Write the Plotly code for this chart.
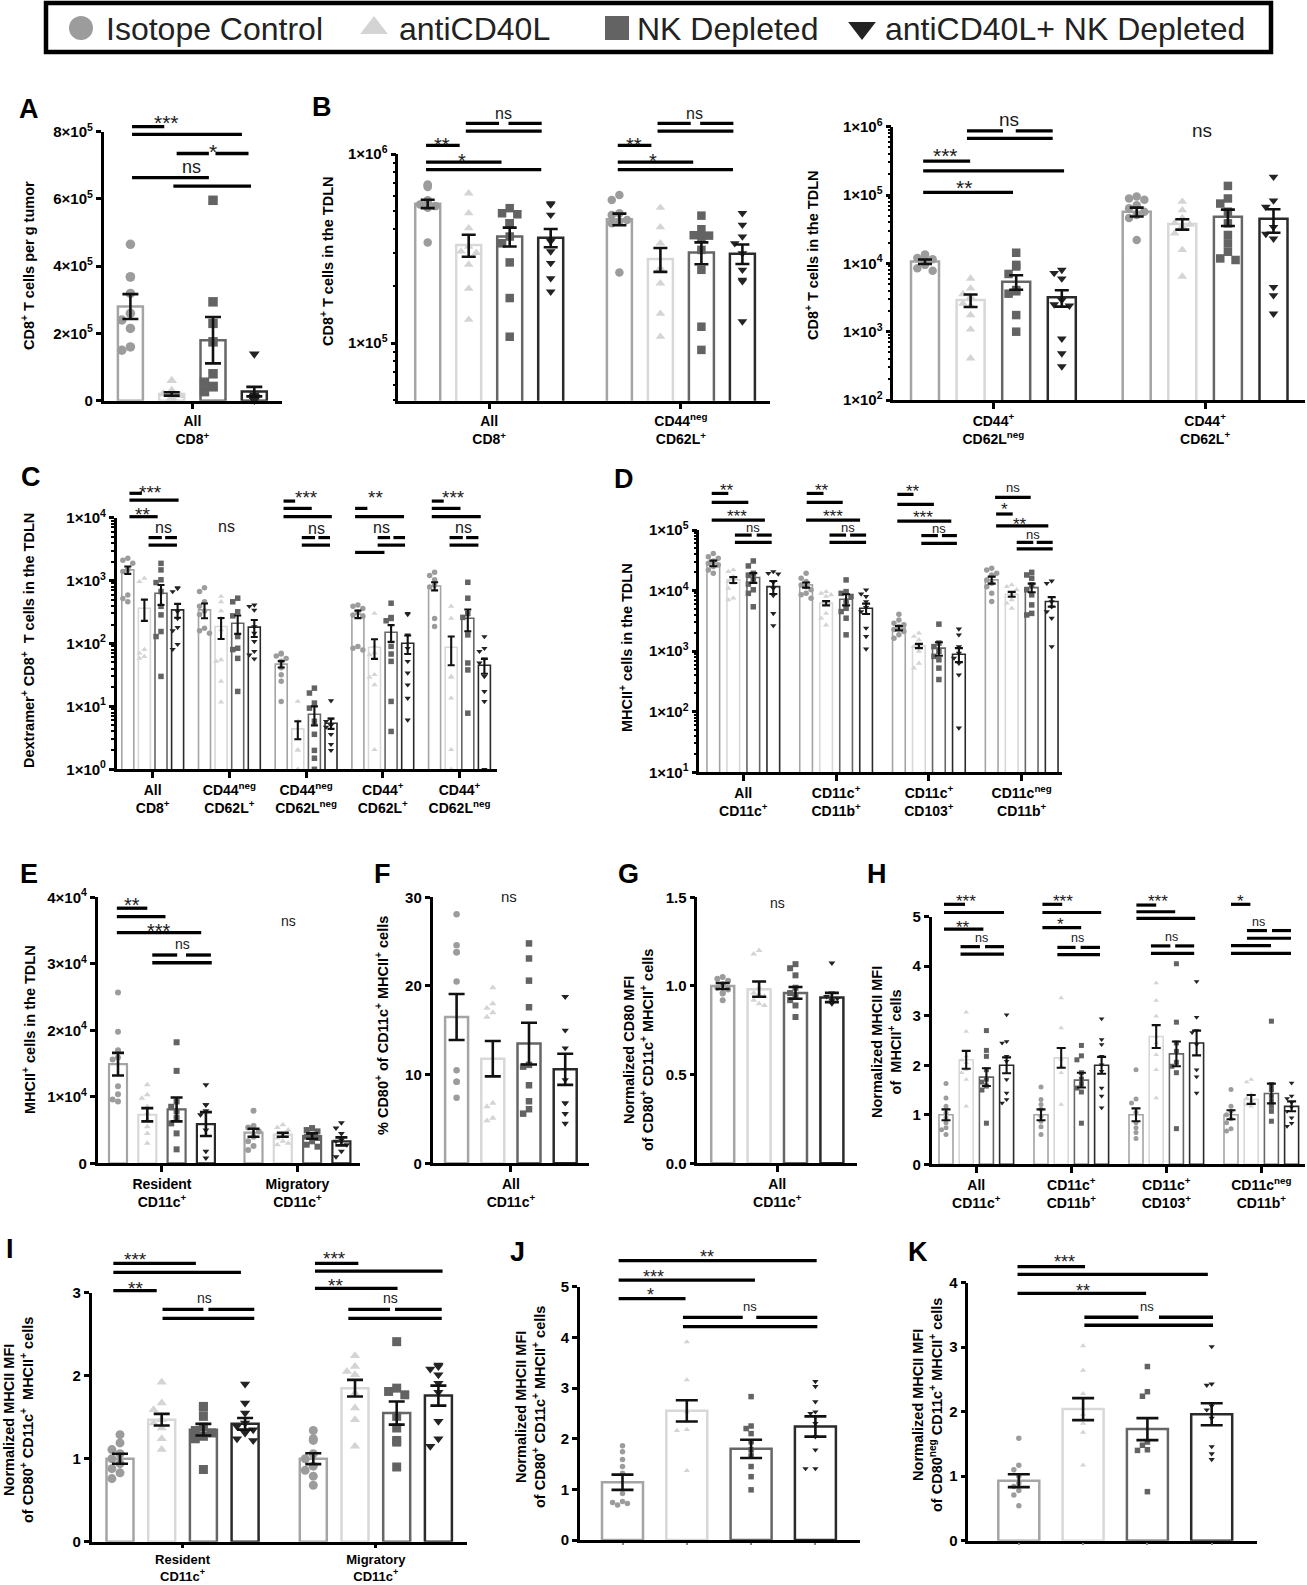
import math
import plotly.graph_objects as go

W, H = 1307, 1585
FONT = "Liberation Sans, Arial, sans-serif"

GROUP_NAMES = ["Isotope Control", "antiCD40L", "NK Depleted", "antiCD40L+ NK Depleted"]
GROUP_COLORS = ["#9c9c9c", "#d4d4d4", "#636363", "#232323"]
BAR_COLORS = ["#a4a4a4", "#d8d8d8", "#666666", "#2a2a2a"]
SYMBOLS = ["circle", "triangle-up", "square", "triangle-down"]


def sci(m, e):
    return f"{m}×10<sup>{e}</sup>"

# ---------------- data ----------------
# Panel A
A_cats = ["All<br>CD8<sup>+</sup>"]
A_means = [[2.8e5, 0.2e5, 1.8e5, 0.27e5]]
A_sems = [[0.37e5, 0.05e5, 0.69e5, 0.14e5]]
A_points = [[
    [4.65e5, 3.68e5, 3.68e5, 3.19e5, 2.6e5, 2.4e5, 2.15e5, 1.5e5, 1.6e5],
    [0.6e5, 0.3e5, 0.2e5, 0.15e5, 0.1e5, 0.08e5, 0.05e5, 0.03e5, 0.03e5],
    [5.96e5, 2.94e5, 2.3e5, 1.75e5, 0.8e5, 0.55e5, 0.42e5, 0.42e5, 0.27e5],
    [1.39e5, 0.17e5, 0.12e5, 0.12e5, 0.07e5, 0.07e5, 0.04e5, 0.02e5, 0.02e5]]]
A_ticks = [0, 2e5, 4e5, 6e5, 8e5]
A_ticktext = ["0", sci(2, 5), sci(4, 5), sci(6, 5), sci(8, 5)]

# Panel B (left)
BL_cats = ["All<br>CD8<sup>+</sup>", "CD44<sup>neg</sup><br>CD62L<sup>+</sup>"]
BL_means = [[5.45e5, 3.3e5, 3.66e5, 3.61e5], [4.52e5, 2.78e5, 3.01e5, 2.97e5]]
BL_sems = [[0.28e5, 0.44e5, 0.42e5, 0.4e5], [0.32e5, 0.4e5, 0.4e5, 0.35e5]]
BL_points = [
    [[6.9e5, 6.8e5, 6.7e5, 5.7e5, 5.6e5, 5.4e5, 5.3e5, 5.2e5, 3.4e5],
     [6.2e5, 4.86e5, 4.05e5, 3.24e5, 3.05e5, 3.0e5, 2.6e5, 1.94e5, 1.33e5],
     [5.17e5, 4.86e5, 4.8e5, 4.3e5, 4.3e5, 3.66e5, 3.37e5, 2.67e5, 1.73e5, 1.08e5],
     [5.48e5, 5.4e5, 4.77e5, 3.5e5, 3.45e5, 3.05e5, 2.65e5, 2.2e5, 1.87e5]],
    [[6.07e5, 5.71e5, 4.86e5, 4.75e5, 4.48e5, 4.4e5, 4.3e5, 2.36e5],
     [5.2e5, 4.1e5, 3.37e5, 2.49e5, 2.45e5, 2.07e5, 1.43e5, 1.08e5],
     [4.72e5, 4.0e5, 3.72e5, 3.7e5, 3.65e5, 3.11e5, 2.44e5, 1.22e5, 0.92e5],
     [4.86e5, 4.22e5, 3.66e5, 3.37e5, 2.98e5, 2.44e5, 2.16e5, 2.12e5, 1.3e5]]]
BL_ticks = [1e5, 1e6]
BL_ticktext = [sci(1, 5), sci(1, 6)]

# Panel B (right)
BR_cats = ["CD44<sup>+</sup><br>CD62L<sup>neg</sup>", "CD44<sup>+</sup><br>CD62L<sup>+</sup>"]
BR_means = [[1.06e4, 2.9e3, 5.4e3, 3.18e3], [5.7e4, 3.77e4, 4.82e4, 4.5e4]]
BR_sems = [[0.08e4, 0.6e3, 1.3e3, 0.85e3], [0.85e4, 0.65e4, 1.3e4, 1.7e4]]
BR_points = [
    [[1.35e4, 1.3e4, 1.2e4, 1.15e4, 1.1e4, 1.05e4, 0.95e4, 0.85e4, 0.78e4],
     [6.0e3, 4.3e3, 3.56e3, 3.2e3, 2.57e3, 2.4e3, 1.75e3, 1.08e3, 4.07e2],
     [1.43e4, 9.5e3, 9.0e3, 7.0e3, 4.07e3, 3.9e3, 3.6e3, 1.75e3, 1.0e3],
     [8.0e3, 7.2e3, 6.0e3, 2.9e3, 2.5e3, 2.4e3, 7.9e2, 4.8e2, 3.1e2]],
    [[9.5e4, 8.9e4, 8.5e4, 7.1e4, 6.4e4, 5.7e4, 5.1e4, 4.6e4, 2.2e4],
     [8.0e4, 6.0e4, 4.6e4, 3.9e4, 3.7e4, 3.5e4, 2.75e4, 1.57e4, 6.4e3],
     [1.36e5, 8.9e4, 7.5e4, 5.7e4, 3.85e4, 2.6e4, 1.96e4, 1.48e4, 1.18e4, 1.12e4],
     [1.85e5, 8.3e4, 6.7e4, 3.4e4, 2.7e4, 2.3e4, 4.5e3, 3.4e3, 1.83e3]]]
BR_ticks = [1e2, 1e3, 1e4, 1e5, 1e6]
BR_ticktext = [sci(1, e) for e in range(2, 7)]

# Panel C
C_cats = ["All<br>CD8<sup>+</sup>", "CD44<sup>neg</sup><br>CD62L<sup>+</sup>",
          "CD44<sup>neg</sup><br>CD62L<sup>neg</sup>", "CD44<sup>+</sup><br>CD62L<sup>+</sup>",
          "CD44<sup>+</sup><br>CD62L<sup>neg</sup>"]
C_means = [[1.48e3, 3.64e2, 6.3e2, 3.42e2], [3.42e2, 1.86e2, 2.1e2, 1.82e2],
           [47, 4.4, 7.5, 5.4], [2.93e2, 87, 1.51e2, 1.01e2], [8.2e2, 87, 2.52e2, 45]]
C_sems = [[0.2e3, 1.35e2, 2.2e2, 0.85e2], [0.9e2, 0.68e2, 0.68e2, 0.55e2],
          [5.5, 1.4, 2.5, 1.0], [0.4e2, 30, 0.45e2, 0.33e2], [1.2e2, 42, 0.95e2, 12]]
C_points = [
    [[2.26e3, 2.1e3, 1.88e3, 1.5e3, 1.4e3, 1.5e3, 5.9e2, 5.2e2, 4.6e2],
     [1.09e3, 9.6e2, 80, 70, 62, 58],
     [1.88e3, 1.48e3, 1.03e3, 9.3e2, 6.7e2, 3.9e2, 2.85e2, 1.55e2, 1.29e2, 30],
     [7.7e2, 7.5e2, 6.7e2, 3.2e2, 2.5e2, 1.8e2, 1.6e2, 97, 81]],
    [[7.7e2, 6.7e2, 4.6e2, 3.9e2, 3.3e2, 2.9e2, 1.75e2, 1.6e2, 1.46e2],
     [5.6e2, 4.6e2, 3.3e2, 2.5e2, 1.65e2, 52, 55, 25, 11.7],
     [5.25e2, 4.6e2, 3.2e2, 2.75e2, 1.29e2, 84, 80, 58, 17.3],
     [4.1e2, 3.9e2, 3.4e2, 1.86e2, 1.46e2, 1.08e2, 75, 66, 57]],
    [[70, 68, 63, 58, 52, 41, 32, 25, 12],
     [12, 5.8, 2.05, 2.0, 1.0, 1.0],
     [19.5, 16.3, 11.3, 9.4, 5.8, 3.6, 2.0, 1.5, 1.0],
     [12.3, 6.3, 5.8, 5.0, 4.7, 3.6, 2.5, 2.0]],
    [[4.1e2, 3.9e2, 3.6e2, 3.2e2, 2.85e2, 2.7e2, 90, 84, 79],
     [3.0e2, 90, 71, 66, 32, 29, 22, 2.05],
     [4.37e2, 2.59e2, 2.5e2, 2.3e2, 90, 68, 52, 12, 4.0],
     [3.0e2, 2.9e2, 1.37e2, 84, 52, 34, 22, 13.5, 6.1]],
    [[1.36e3, 1.2e3, 1.03e3, 8.4e2, 7.9e2, 2.5e2, 1.86e2],
     [3.9e2, 2.5e2, 30, 29, 13.5, 2.05, 1.0],
     [9.4e2, 5.25e2, 3.0e2, 2.6e2, 1.37e2, 49, 38, 7.8],
     [1.29e2, 84, 75, 57, 49, 30, 17.3, 12, 1.0]]]
C_ticks = [1e0, 1e1, 1e2, 1e3, 1e4]
C_ticktext = [sci(1, e) for e in range(0, 5)]

# Panel D
D_cats = ["All<br>CD11c<sup>+</sup>", "CD11c<sup>+</sup><br>CD11b<sup>+</sup>",
          "CD11c<sup>+</sup><br>CD103<sup>+</sup>", "CD11c<sup>neg</sup><br>CD11b<sup>+</sup>"]
D_means = [[2.82e4, 1.5e4, 1.64e4, 1.16e4], [1.24e4, 6.2e3, 7.2e3, 5.1e3],
           [2.4e3, 1.22e3, 1.12e3, 8.9e2], [1.5e4, 8.7e3, 1.12e4, 6.6e3]]
D_sems = [[0.3e4, 0.17e4, 0.3e4, 0.28e4], [0.12e4, 0.5e3, 1.5e3, 1.0e3],
          [0.2e3, 0.1e3, 0.28e3, 0.23e3], [0.2e4, 0.8e3, 1.8e3, 1.2e3]]
D_points = [
    [[4.1e4, 3.63e4, 3.41e4, 3.08e4, 2.82e4, 2.65e4, 2.49e4, 2.19e4, 1.93e4],
     [2.19e4, 2.06e4, 1.7e4, 1.41e4, 1.32e4, 1.09e4, 7.5e3, 7.0e3],
     [3.08e4, 2.55e4, 1.93e4, 1.8e4, 1.55e4, 1.28e4, 1.03e4, 9.0e3, 5.4e3],
     [2.06e4, 1.93e4, 1.88e4, 1.37e4, 1.09e4, 8.3e3, 4.2e3, 2.65e3]],
    [[1.93e4, 1.6e4, 1.41e4, 1.24e4, 1.16e4, 1.03e4, 9.0e3, 8.5e3, 7.5e3],
     [9.6e3, 9.0e3, 8.5e3, 8.0e3, 6.2e3, 4.2e3, 3.5e3, 2.7e3],
     [1.5e4, 9.6e3, 9.0e3, 8.0e3, 6.6e3, 5.1e3, 4.5e3, 3.5e3, 1.86e3],
     [1.03e4, 8.8e3, 8.0e3, 6.6e3, 5.3e3, 4.5e3, 2.4e3, 1.75e3, 1.09e3]],
    [[4.07e3, 3.28e3, 2.9e3, 2.73e3, 2.55e3, 2.27e3, 2.12e3, 1.86e3, 1.64e3],
     [1.98e3, 1.75e3, 1.54e3, 1.27e3, 1.19e3, 9.9e2, 6.3e2, 5.25e2],
     [2.79e3, 1.36e3, 1.19e3, 9.9e2, 8.2e2, 7.2e2, 5.25e2, 3.4e2],
     [2.33e3, 1.86e3, 1.19e3, 9.3e2, 7.7e2, 6.3e2, 4.07e2, 54]],
    [[2.33e4, 2.19e4, 1.93e4, 1.81e4, 1.5e4, 1.32e4, 1.16e4, 9.0e3, 6.6e3],
     [1.24e4, 1.16e4, 1.03e4, 8.5e3, 7.0e3, 6.2e3, 5.1e3],
     [2.0e4, 1.81e4, 1.6e4, 1.24e4, 1.03e4, 8.5e3, 5.8e3, 4.2e3, 3.96e3],
     [1.44e4, 1.32e4, 6.6e3, 5.4e3, 4.5e3, 3.5e3, 1.19e3]]]
D_ticks = [1e1, 1e2, 1e3, 1e4, 1e5]
D_ticktext = [sci(1, e) for e in range(1, 6)]

# Panel E
E_cats = ["Resident<br>CD11c<sup>+</sup>", "Migratory<br>CD11c<sup>+</sup>"]
E_means = [[1.49e4, 0.73e4, 0.81e4, 0.59e4], [0.46e4, 0.43e4, 0.41e4, 0.33e4]]
E_sems = [[0.17e4, 0.1e4, 0.18e4, 0.18e4], [0.06e4, 0.03e4, 0.04e4, 0.06e4]]
E_points = [
    [[2.57e4, 1.98e4, 1.7e4, 1.59e4, 1.56e4, 1.16e4, 1.04e4, 0.96e4, 0.93e4],
     [1.18e4, 1.03e4, 0.98e4, 0.85e4, 0.75e4, 0.65e4, 0.55e4, 0.45e4, 0.3e4],
     [1.82e4, 1.39e4, 0.93e4, 0.85e4, 0.78e4, 0.68e4, 0.6e4, 0.45e4, 0.21e4],
     [1.18e4, 0.88e4, 0.88e4, 0.79e4, 0.73e4, 0.5e4, 0.18e4, 0.08e4]],
    [[0.79e4, 0.56e4, 0.54e4, 0.48e4, 0.4e4, 0.33e4, 0.26e4, 0.2e4],
     [0.58e4, 0.54e4, 0.5e4, 0.43e4, 0.38e4, 0.33e4, 0.3e4, 0.28e4],
     [0.53e4, 0.5e4, 0.48e4, 0.43e4, 0.4e4, 0.38e4, 0.33e4, 0.28e4, 0.25e4],
     [0.61e4, 0.53e4, 0.45e4, 0.35e4, 0.33e4, 0.28e4, 0.18e4, 0.1e4]]]
E_ticks = [0, 1e4, 2e4, 3e4, 4e4]
E_ticktext = ["0", sci(1, 4), sci(2, 4), sci(3, 4), sci(4, 4)]

# Panel F
F_cats = ["All<br>CD11c<sup>+</sup>"]
F_means = [[16.5, 11.8, 13.5, 10.6]]
F_sems = [[2.6, 2.0, 2.35, 1.75]]
F_points = [[
    [28.1, 24.6, 23.8, 23.8, 20.5, 10.5, 9.2, 9.2, 7.4],
    [19.8, 18.0, 17.5, 17.0, 16.5, 6.8, 6.4, 5.1, 4.8],
    [24.8, 23.1, 20.6, 17.6, 11.1, 10.9, 8.8, 7.0, 6.1, 5.6],
    [18.8, 18.8, 15.0, 13.0, 9.4, 6.8, 6.8, 5.6, 4.5]]]
F_ticks = [0, 10, 20, 30]
F_ticktext = ["0", "10", "20", "30"]

# Panel G
G_cats = ["All<br>CD11c<sup>+</sup>"]
G_means = [[1.0, 0.982, 0.961, 0.935]]
G_sems = [[0.017, 0.043, 0.033, 0.026]]
G_points = [[
    [1.05, 1.04, 1.03, 1.01, 0.99, 0.98, 0.96, 0.957, 0.92],
    [1.2, 1.18, 0.99, 0.96, 0.95, 0.94, 0.92, 0.9, 0.89],
    [1.123, 1.1, 1.06, 0.99, 0.96, 0.94, 0.92, 0.89, 0.825],
    [1.13, 0.96, 0.94, 0.93, 0.92, 0.91, 0.905, 0.9]]]
G_ticks = [0, 0.5, 1.0, 1.5]
G_ticktext = ["0.0", "0.5", "1.0", "1.5"]

# Panel H
H_cats = D_cats
H_means = [[1.0, 2.11, 1.76, 2.0], [1.0, 2.15, 1.7, 2.0], [1.0, 2.58, 2.23, 2.45], [1.0, 1.31, 1.43, 1.17]]
H_sems = [[0.11, 0.18, 0.18, 0.16], [0.11, 0.2, 0.15, 0.17], [0.13, 0.23, 0.25, 0.25], [0.09, 0.09, 0.2, 0.1]]
H_points = [
    [[1.63, 1.34, 1.17, 1.04, 0.94, 0.84, 0.74, 0.6, 0.7],
     [3.07, 2.68, 2.18, 2.1, 2.05, 1.85, 1.71, 1.17, 1.91],
     [2.7, 2.3, 2.18, 1.91, 1.72, 1.66, 1.58, 1.5, 0.83],
     [3.02, 2.48, 2.45, 2.18, 2.08, 1.71, 1.44, 1.31, 1.24]],
    [[1.56, 1.31, 1.21, 1.11, 0.97, 0.87, 0.76, 0.6],
     [3.36, 2.75, 2.12, 1.99, 1.85, 1.21],
     [2.4, 2.19, 2.11, 1.85, 1.72, 1.62, 1.54, 1.46, 0.83],
     [2.94, 2.52, 2.42, 2.18, 2.01, 1.88, 1.54, 1.38, 1.14]],
    [[1.91, 1.32, 1.24, 1.05, 0.84, 0.74, 0.64, 0.52],
     [3.66, 3.31, 2.99, 2.58, 2.45, 2.21, 1.91, 1.34],
     [4.05, 2.87, 2.45, 2.28, 2.06, 1.98, 1.85, 0.72],
     [3.69, 2.97, 2.7, 2.66, 2.42, 1.91, 1.77, 1.44]],
    [[1.51, 1.17, 1.07, 1.0, 0.92, 0.84, 0.72, 0.67],
     [1.71, 1.66, 1.41, 1.34, 1.28, 1.21, 1.17],
     [2.89, 1.61, 1.51, 1.38, 1.28, 1.17, 1.07, 0.87],
     [1.64, 1.38, 1.33, 1.25, 1.15, 1.07, 0.94, 0.83, 0.77]]]
H_ticks = [0, 1, 2, 3, 4, 5]
H_ticktext = ["0", "1", "2", "3", "4", "5"]

# Panel I
I_cats = E_cats
I_means = [[1.0, 1.47, 1.35, 1.42], [1.0, 1.85, 1.55, 1.76]]
I_sems = [[0.06, 0.07, 0.07, 0.07], [0.065, 0.1, 0.14, 0.12]]
I_points = [
    [[1.29, 1.19, 1.11, 1.06, 1.0, 0.94, 0.88, 0.83, 0.76],
     [1.92, 1.67, 1.59, 1.47, 1.43, 1.37, 1.24, 1.11],
     [1.63, 1.62, 1.51, 1.38, 1.34, 1.31, 1.27, 1.24, 0.87],
     [1.9, 1.67, 1.55, 1.43, 1.39, 1.35, 1.31, 1.24, 1.22]],
    [[1.34, 1.24, 1.22, 1.06, 1.0, 0.91, 0.86, 0.79, 0.68],
     [2.24, 2.11, 2.05, 2.01, 1.79, 1.61, 1.47, 1.15],
     [2.41, 1.85, 1.81, 1.77, 1.51, 1.37, 1.22, 1.2, 0.9],
     [2.13, 2.11, 2.08, 2.01, 1.91, 1.8, 1.45, 1.24, 1.15]]]
I_ticks = [0, 1, 2, 3]
I_ticktext = ["0", "1", "2", "3"]

# Panel J
J_means = [[1.14, 2.55, 1.8, 2.24]]
J_sems = [[0.15, 0.21, 0.18, 0.2]]
J_points = [[
    [1.86, 1.74, 1.59, 1.45, 1.32, 0.92, 0.76, 0.74, 0.72, 0.69],
    [3.91, 3.16, 2.53, 2.34, 2.18, 2.16, 1.37],
    [2.83, 2.25, 2.2, 2.1, 1.94, 1.78, 1.66, 1.45, 1.25, 0.99],
    [3.13, 3.03, 2.73, 2.53, 2.5, 2.3, 2.04, 1.78, 1.41, 1.41]]]
J_ticks = [0, 1, 2, 3, 4, 5]
J_ticktext = ["0", "1", "2", "3", "4", "5"]

# Panel K
K_means = [[0.93, 2.04, 1.73, 1.96]]
K_sems = [[0.1, 0.17, 0.17, 0.17]]
K_points = [[
    [1.59, 1.17, 1.1, 1.0, 0.89, 0.84, 0.78, 0.71, 0.54],
    [3.02, 2.64, 2.28, 1.96, 1.82, 1.68, 1.17],
    [2.7, 2.31, 2.24, 1.53, 1.48, 1.41, 1.4, 0.76],
    [3.01, 2.43, 2.41, 2.09, 2.03, 1.9, 1.46, 1.35, 1.26]]]
K_ticks = [0, 1, 2, 3, 4]
K_ticktext = ["0", "1", "2", "3", "4"]

# ---------------- significance marks: ('l', cat, g0, g1, level) / ('t', cat, g, level, text)
A_sig = [('l', 0, 0.04, 0.82, 1.019), ('l', 0, 0.04, 2.70, 0.990), ('l', 0, 1.12, 1.90, 0.919),
         ('l', 0, 2.06, 2.86, 0.919), ('l', 0, 0.04, 1.90, 0.829), ('l', 0, 1.04, 2.92, 0.798),
         ('t', 0, 0.88, 1.056, '***'), ('t', 0, 2.0, 0.950, '*'), ('t', 0, 1.47, 0.867, 'ns')]
BL_sig = []
for c in range(2):
    BL_sig += [('l', c, 0.93, 1.74, 1.124), ('l', c, 1.97, 2.78, 1.124), ('l', c, 0.93, 2.78, 1.093),
               ('l', c, -0.04, 0.78, 1.035), ('l', c, -0.04, 1.80, 0.967), ('l', c, -0.04, 2.77, 0.937),
               ('t', c, 1.84, 1.162, 'ns'), ('t', c, 0.35, 1.058, '**'), ('t', c, 0.83, 0.994, '*')]
BR_sig = [('l', 0, 0.92, 1.71, 0.985), ('l', 0, 1.99, 2.80, 0.985), ('l', 0, 0.92, 2.80, 0.957),
          ('l', 0, -0.04, 0.99, 0.874), ('l', 0, -0.04, 3.05, 0.838), ('l', 0, -0.04, 1.93, 0.760),
          ('t', 0, 1.84, 1.024, 'ns'), ('t', 0, 0.44, 0.915, '***'), ('t', 0, 0.86, 0.799, '**'),
          ('t', 1, 1.43, 0.982, 'ns')]
C_sig = [('l', 0, 0.1, 0.85, 1.097), ('l', 0, 0.1, 3.06, 1.070), ('l', 0, 0.1, 1.8, 1.004),
         ('l', 0, 1.25, 2.05, 0.921), ('l', 0, 2.25, 2.96, 0.921), ('l', 0, 1.25, 2.96, 0.891),
         ('t', 0, 1.35, 1.123, '***'), ('t', 0, 0.9, 1.034, '**'), ('t', 0, 2.15, 0.958, 'ns'),
         ('t', 1, 1.34, 0.964, 'ns'),
         ('l', 2, 0.14, 0.84, 1.066), ('l', 2, 0.14, 1.84, 1.037), ('l', 2, 0.14, 3.05, 1.004),
         ('l', 2, 1.24, 2.04, 0.921), ('l', 2, 2.24, 2.94, 0.921), ('l', 2, 1.24, 2.94, 0.891),
         ('t', 2, 1.54, 1.101, '***'), ('t', 2, 2.1, 0.955, 'ns'),
         ('l', 3, -0.17, 0.57, 1.037), ('l', 3, -0.17, 2.78, 1.004), ('l', 3, 1.19, 1.94, 0.921),
         ('l', 3, 2.14, 2.84, 0.921), ('l', 3, 1.19, 2.84, 0.891), ('l', 3, -0.17, 1.6, 0.862),
         ('t', 3, 1.04, 1.101, '**'), ('t', 3, 1.44, 0.958, 'ns'),
         ('l', 4, -0.17, 0.55, 1.066), ('l', 4, -0.17, 1.56, 1.037), ('l', 4, -0.17, 2.78, 1.004),
         ('l', 4, 0.9, 1.7, 0.921), ('l', 4, 1.9, 2.64, 0.921), ('l', 4, 0.9, 2.64, 0.891),
         ('t', 4, 1.14, 1.101, '***'), ('t', 4, 1.74, 0.958, 'ns')]
D_sig = [('l', 0, -0.08, 0.75, 1.151), ('l', 0, -0.08, 1.75, 1.114), ('l', 0, -0.08, 2.58, 1.041),
         ('l', 0, 1.08, 1.92, 0.979), ('l', 0, 2.17, 2.92, 0.979), ('l', 0, 1.08, 2.92, 0.949),
         ('t', 0, 0.7, 1.183, '**'), ('t', 0, 1.2, 1.076, '***'), ('t', 0, 2.0, 1.007, 'ns'),
         ('l', 1, 0.03, 0.87, 1.151), ('l', 1, 0.03, 1.83, 1.114), ('l', 1, 0.0, 2.7, 1.041),
         ('l', 1, 1.17, 2.0, 0.979), ('l', 1, 2.2, 3.0, 0.979), ('l', 1, 1.17, 3.0, 0.949),
         ('t', 1, 0.78, 1.183, '**'), ('t', 1, 1.33, 1.076, '***'), ('t', 1, 2.12, 1.007, 'ns'),
         ('l', 2, -0.08, 0.73, 1.147), ('l', 2, -0.08, 1.75, 1.106), ('l', 2, -0.08, 2.62, 1.037),
         ('l', 2, 1.12, 1.95, 0.977), ('l', 2, 2.15, 2.9, 0.977), ('l', 2, 1.12, 2.9, 0.945),
         ('t', 2, 0.7, 1.179, '**'), ('t', 2, 1.2, 1.073, '***'), ('t', 2, 2.0, 1.004, 'ns'),
         ('l', 3, 0.17, 1.95, 1.135), ('l', 3, 0.22, 1.05, 1.066), ('l', 3, 0.22, 2.83, 1.017),
         ('l', 3, 1.25, 2.08, 0.949), ('l', 3, 2.25, 3.05, 0.949), ('l', 3, 1.25, 3.05, 0.922),
         ('t', 3, 1.05, 1.172, 'ns'), ('t', 3, 0.63, 1.103, '*'), ('t', 3, 1.42, 1.041, '**'),
         ('t', 3, 2.08, 0.979, 'ns')]
E_sig = [('l', 0, -0.04, 1.0, 0.959), ('l', 0, -0.04, 1.62, 0.927), ('l', 0, -0.04, 2.84, 0.867),
         ('l', 0, 1.17, 2.02, 0.783), ('l', 0, 2.32, 3.17, 0.783), ('l', 0, 1.17, 3.2, 0.754),
         ('t', 0, 0.48, 0.992, '**'), ('t', 0, 1.41, 0.896, '***'), ('t', 0, 2.19, 0.821, 'ns'),
         ('t', 1, 1.18, 0.908, 'ns')]
F_sig = [('t', 0, 1.45, 1.0, 'ns')]
G_sig = [('t', 0, 1.5, 0.977, 'ns')]
H_sig = [('l', 0, -0.1, 0.94, 1.050), ('l', 0, -0.1, 2.87, 1.017), ('l', 0, -0.1, 1.85, 0.950),
         ('l', 0, 0.72, 1.68, 0.879), ('l', 0, 1.93, 2.87, 0.879), ('l', 0, 0.72, 2.87, 0.849),
         ('t', 0, 0.99, 1.081, '***'), ('t', 0, 0.86, 0.977, '**'), ('t', 0, 1.76, 0.913, 'ns'),
         ('l', 1, 0.07, 1.05, 1.050), ('l', 1, 0.07, 2.98, 1.017), ('l', 1, 0.07, 1.99, 0.956),
         ('l', 1, 0.81, 1.71, 0.876), ('l', 1, 1.96, 2.92, 0.876), ('l', 1, 0.81, 2.92, 0.847),
         ('t', 1, 1.1, 1.081, '***'), ('t', 1, 0.97, 0.987, '*'), ('t', 1, 1.83, 0.913, 'ns'),
         ('l', 2, 0.02, 1.0, 1.047), ('l', 2, 0.02, 1.94, 1.020), ('l', 2, 0.02, 2.93, 0.993),
         ('l', 2, 0.74, 1.7, 0.882), ('l', 2, 1.94, 2.88, 0.882), ('l', 2, 0.74, 2.88, 0.852),
         ('t', 2, 1.09, 1.081, '***'), ('t', 2, 1.78, 0.917, 'ns'),
         ('l', 3, 0.0, 0.96, 1.050), ('l', 3, 0.79, 1.78, 0.944), ('l', 3, 2.03, 2.97, 0.944),
         ('l', 3, 0.79, 2.97, 0.913), ('l', 3, 0.0, 1.98, 0.883), ('l', 3, 0.0, 2.97, 0.852),
         ('t', 3, 0.46, 1.081, '*'), ('t', 3, 1.37, 0.976, 'ns')]
I_sig = [('l', 0, -0.16, 1.82, 1.118), ('l', 0, -0.16, 2.9, 1.082), ('l', 0, -0.16, 0.88, 1.008),
         ('l', 0, 1.02, 2.0, 0.933), ('l', 0, 2.12, 3.22, 0.933), ('l', 0, 1.02, 3.22, 0.897),
         ('t', 0, 0.36, 1.154, '***'), ('t', 0, 0.36, 1.040, '**'), ('t', 0, 2.02, 0.977, 'ns'),
         ('l', 1, 0.04, 1.08, 1.118), ('l', 1, 0.04, 3.1, 1.087), ('l', 1, 0.04, 2.02, 1.017),
         ('l', 1, 0.84, 1.84, 0.933), ('l', 1, 1.96, 3.08, 0.933), ('l', 1, 0.84, 3.08, 0.897),
         ('t', 1, 0.52, 1.158, '***'), ('t', 1, 0.54, 1.051, '**'), ('t', 1, 1.86, 0.977, 'ns')]
J_sig = [('l', 0, -0.06, 3.02, 1.103), ('l', 0, -0.06, 2.06, 1.026), ('l', 0, -0.06, 0.98, 0.953),
         ('l', 0, 0.94, 1.87, 0.879), ('l', 0, 2.08, 3.03, 0.879), ('l', 0, 0.94, 3.03, 0.842),
         ('t', 0, 1.32, 1.138, '**'), ('t', 0, 0.48, 1.059, '***'), ('t', 0, 0.44, 0.987, '*'),
         ('t', 0, 1.99, 0.921, 'ns')]
K_sig = [('l', 0, -0.02, 1.03, 1.062), ('l', 0, -0.02, 2.94, 1.032), ('l', 0, -0.02, 1.98, 0.959),
         ('l', 0, 1.02, 1.86, 0.866), ('l', 0, 2.18, 3.02, 0.866), ('l', 0, 1.02, 3.02, 0.835),
         ('t', 0, 0.71, 1.101, '***'), ('t', 0, 1.0, 0.988, '**'), ('t', 0, 2.0, 0.904, 'ns')]

# ---------------- panel layout (pixel geometry, styling) ----------------
PANELS = [
    dict(letter="A", lpos=(29, 109), x0=103.6, x1=282, yt=131.7, yb=400.7, first=130.4, gs=41.3, cs=0, bw=25,
         yr=[0, 8e5], log=False, ticks=A_ticks, ticktext=A_ticktext, cats=A_cats, means=A_means, sems=A_sems,
         pts=A_points, sig=A_sig, ms=9.5, cap=8, blw=2.5, sfs=21, nfs=18,
         title="CD8<sup>+</sup> T cells per g tumor", tpos=(28, 266)),
    dict(letter="B", lpos=(322, 107), x0=398.3, x1=770, yt=154, yb=400.7, first=427.7, gs=41, cs=191.7, bw=25,
         yr=[4.695, 6], log=True, ticks=BL_ticks, ticktext=BL_ticktext, cats=BL_cats, means=BL_means,
         sems=BL_sems, pts=BL_points, sig=BL_sig, ms=8.5, cap=7, blw=2.5, sfs=20, nfs=16,
         title="CD8<sup>+</sup> T cells in the TDLN", tpos=(327, 262)),
    dict(letter="", lpos=None, x0=893.3, x1=1305, yt=126.7, yb=400, first=925, gs=45.6, cs=211.7, bw=28,
         yr=[2, 6], log=True, ticks=BR_ticks, ticktext=BR_ticktext, cats=BR_cats, means=BR_means,
         sems=BR_sems, pts=BR_points, sig=BR_sig, ms=8.5, cap=7, blw=2.5, sfs=21, nfs=19,
         title="CD8<sup>+</sup> T cells in the TDLN", tpos=(812, 256)),
    dict(letter="C", lpos=(31, 477), x0=116.7, x1=497, yt=517.7, yb=769.3, first=127.8, gs=16.6, cs=76.7, bw=12,
         yr=[0, 4], log=True, ticks=C_ticks, ticktext=C_ticktext, cats=C_cats, means=C_means, sems=C_sems,
         pts=C_points, sig=C_sig, ms=5.5, cap=3.5, blw=1.6, sfs=19, nfs=16, slw=3.2,
         title="Dextramer<sup>+</sup> CD8<sup>+</sup>  T cells in the TDLN", tpos=(28, 641)),
    dict(letter="D", lpos=(624, 479), x0=699.3, x1=1062, yt=530, yb=772.3, first=713.3, gs=20, cs=92.8, bw=12.7,
         yr=[1, 5], log=True, ticks=D_ticks, ticktext=D_ticktext, cats=D_cats, means=D_means, sems=D_sems,
         pts=D_points, sig=D_sig, ms=5.5, cap=4, blw=1.6, sfs=17, nfs=13, slw=3.2,
         title="MHCII<sup>+</sup> cells in the TDLN", tpos=(626, 648)),
    dict(letter="E", lpos=(29, 874), x0=97.6, x1=359.7, yt=897.3, yb=1163.3, first=118, gs=29.3, cs=135.5, bw=18,
         yr=[0, 4e4], log=False, ticks=E_ticks, ticktext=E_ticktext, cats=E_cats, means=E_means, sems=E_sems,
         pts=E_points, sig=E_sig, ms=6, cap=6, blw=2.2, sfs=20, nfs=14,
         title="MHCII<sup>+</sup> cells in the TDLN", tpos=(29, 1030)),
    dict(letter="F", lpos=(383, 874), x0=432.5, x1=589, yt=897.3, yb=1163.3, first=456.6, gs=36.2, cs=0, bw=23,
         yr=[0, 30], log=False, ticks=F_ticks, ticktext=F_ticktext, cats=F_cats, means=F_means, sems=F_sems,
         pts=F_points, sig=F_sig, ms=6.5, cap=8, blw=2.5, sfs=18, nfs=15,
         title="% CD80<sup>+</sup> of CD11c<sup>+</sup> MHCII<sup>+</sup> cells", tpos=(382, 1026)),
    dict(letter="G", lpos=(628, 874), x0=697.3, x1=856.7, yt=897.3, yb=1163.3, first=722.7, gs=36.4, cs=0, bw=23,
         yr=[0, 1.5], log=False, ticks=G_ticks, ticktext=G_ticktext, cats=G_cats, means=G_means, sems=G_sems,
         pts=G_points, sig=G_sig, ms=6, cap=7, blw=2.5, sfs=18, nfs=14,
         title="Normalized CD80 MFI<br>of CD80<sup>+</sup> CD11c<sup>+</sup> MHCII<sup>+</sup> cells",
         tpos=(638, 1050)),
    dict(letter="H", lpos=(877, 874), x0=931.7, x1=1305, yt=916.7, yb=1164.3, first=946, gs=20.2, cs=95, bw=14,
         yr=[0, 5], log=False, ticks=H_ticks, ticktext=H_ticktext, cats=H_cats, means=H_means, sems=H_sems,
         pts=H_points, sig=H_sig, ms=5, cap=4.5, blw=1.6, sfs=17, nfs=12.5, slw=3.2,
         title="Normalized MHCII MFI<br>of  MHCII<sup>+</sup> cells", tpos=(886, 1042)),
    dict(letter="I", lpos=(10, 1249), x0=91.7, x1=466.7, yt=1292.7, yb=1541.7, first=120, gs=41.7, cs=193.3, bw=27,
         yr=[0, 3], log=False, ticks=I_ticks, ticktext=I_ticktext, cats=I_cats, means=I_means, sems=I_sems,
         pts=I_points, sig=I_sig, ms=9, cap=8, blw=2.5, sfs=19, nfs=14, cfs=13, ctl=4,
         title="Normalized MHCII MFI<br>of CD80<sup>+</sup> CD11c<sup>+</sup>  MHCII<sup>+</sup> cells",
         tpos=(18, 1420)),
    dict(letter="J", lpos=(517, 1252), x0=579.8, x1=860, yt=1286.7, yb=1540, first=622.5, gs=64.3, cs=0, bw=41,
         yr=[0, 5], log=False, ticks=J_ticks, ticktext=J_ticktext, cats=None, means=J_means, sems=J_sems,
         pts=J_points, sig=J_sig, ms=5.5, cap=11, blw=2.5, sfs=18, nfs=13,
         title="Normalized MHCII MFI<br>of CD80<sup>+</sup> CD11c<sup>+</sup> MHCII<sup>+</sup> cells",
         tpos=(530, 1407)),
    dict(letter="K", lpos=(918, 1252), x0=968.3, x1=1256.5, yt=1282.7, yb=1540.7, first=1018.8, gs=64.3, cs=0, bw=41,
         yr=[0, 4], log=False, ticks=K_ticks, ticktext=K_ticktext, cats=None, means=K_means, sems=K_sems,
         pts=K_points, sig=K_sig, ms=5.5, cap=11, blw=2.5, sfs=18, nfs=13,
         title="Normalized MHCII MFI<br>of CD80<sup>neg</sup> CD11c<sup>+</sup> MHCII<sup>+</sup> cells",
         tpos=(927, 1405)),
]

LEGEND_SYMBOL_X = [81, 374, 617, 862]
LEGEND_TEXT_X = [104, 397, 635, 883]
LEGEND_Y = 28


def X(px):
    return px / W


def Y(py):
    return 1 - py / H


def swarm(vals, to_px, d, halfw):
    order = sorted(range(len(vals)), key=lambda i: -vals[i])
    placed, offs = [], [0.0] * len(vals)
    for i in order:
        py = to_px(vals[i])
        chosen = None
        for k in [0, -1, 1, -2, 2, -3, 3, -4, 4]:
            dx = k * d * 0.9
            if abs(dx) > halfw:
                continue
            if all((dx - pdx) ** 2 + (py - ppy) ** 2 >= (d * 0.92) ** 2 for ppy, pdx in placed):
                chosen = dx
                break
        if chosen is None:
            chosen = 0.0
        offs[i] = chosen
        placed.append((py, chosen))
    return offs


fig = go.Figure()
shapes, annos = [], []
tick_font = dict(family=FONT, size=15, color="black", weight="bold")

for idx, P in enumerate(PANELS, start=1):
    xa, ya = f"x{idx}", f"y{idx}"
    ncat = len(P["means"])
    r0, r1 = P["yr"]

    def pos(c, g, P=P):
        return P["first"] + c * P["cs"] + g * P["gs"]

    def ypx(v, P=P, r0=r0, r1=r1):
        t = math.log10(v) if P["log"] else v
        return P["yb"] - (t - r0) / (r1 - r0) * (P["yb"] - P["yt"])

    # bars (mean)
    for g in range(4):
        fig.add_trace(go.Bar(
            x=[pos(c, g) for c in range(ncat)], y=[P["means"][c][g] for c in range(ncat)],
            width=P["bw"], marker=dict(color="white", line=dict(color=BAR_COLORS[g], width=P["blw"])),
            xaxis=xa, yaxis=ya, showlegend=False, hoverinfo="skip"))
    # individual points
    for g in range(4):
        xs, ys = [], []
        for c in range(ncat):
            vals = P["pts"][c][g]
            offs = swarm(vals, ypx, P["ms"], P["bw"] * 0.42)
            xs += [pos(c, g) + o for o in offs]
            ys += vals
        fig.add_trace(go.Scatter(
            x=xs, y=ys, mode="markers", cliponaxis=False,
            marker=dict(symbol=SYMBOLS[g], color=GROUP_COLORS[g], size=P["ms"], line=dict(width=0)),
            xaxis=xa, yaxis=ya, showlegend=False, hoverinfo="skip"))
    # SEM error bars
    for g in range(4):
        fig.add_trace(go.Scatter(
            x=[pos(c, g) for c in range(ncat)], y=[P["means"][c][g] for c in range(ncat)],
            mode="markers", marker=dict(size=1, color="rgba(0,0,0,0)"), cliponaxis=False,
            error_y=dict(type="data", array=[P["sems"][c][g] for c in range(ncat)], color="#111111",
                         thickness=2.6 if P["blw"] > 2 else 2.1, width=P["cap"]),
            xaxis=xa, yaxis=ya, showlegend=False, hoverinfo="skip"))

    # axes
    base_x = dict(domain=[X(P["x0"]), X(P["x1"])], range=[P["x0"], P["x1"]], anchor=ya, showgrid=False,
                  zeroline=False, showline=True, linecolor="black", linewidth=2.5, fixedrange=True,
                  tickmode="array", ticks="outside")
    if P["cats"] is not None:
        base_x.update(tickvals=[pos(c, 1.5) for c in range(ncat)], ticktext=P["cats"], ticklen=P.get("ctl", 6),
                      tickwidth=2.5, tickcolor="black",
                      tickfont=dict(family=FONT, size=P.get("cfs", 14), color="black", weight="bold"))
    else:
        base_x.update(tickvals=[pos(0, g) for g in range(4)], showticklabels=False, ticklen=2, tickwidth=1.5,
                      tickcolor="#888888")
    fig.layout[f"xaxis{idx}"] = base_x

    yax = dict(domain=[Y(P["yb"]), Y(P["yt"])], anchor=xa, showgrid=False, zeroline=False, showline=True,
               linecolor="black", linewidth=2.5, ticks="outside", ticklen=5, tickwidth=2.5, tickcolor="black",
               tickmode="array", tickvals=P["ticks"], ticktext=P["ticktext"], tickfont=tick_font,
               fixedrange=True)
    if P["log"]:
        minor_vals = []
        for e in range(int(math.floor(r0)), int(math.ceil(r1))):
            for k in range(2, 10):
                v = k * 10 ** e
                if r0 - 1e-9 <= math.log10(v) <= r1 + 1e-9:
                    minor_vals.append(v)
        yax.update(type="log", range=[r0, r1],
                   minor=dict(tickmode="array", tickvals=minor_vals, ticks="outside", ticklen=3, tickwidth=1.5,
                              tickcolor="black", showgrid=False))
    else:
        yax.update(type="linear", range=[r0, r1])
    fig.layout[f"yaxis{idx}"] = yax

    # significance lines and labels
    slw = P.get("slw", 3.3)
    for item in P["sig"]:
        if item[0] == "l":
            _, c, g0, g1, lev = item
            py = P["yb"] - lev * (P["yb"] - P["yt"])
            shapes.append(dict(type="line", xref="paper", yref="paper", x0=X(pos(c, g0)), x1=X(pos(c, g1)),
                               y0=Y(py), y1=Y(py), line=dict(color="black", width=slw)))
        else:
            _, c, g, lev, txt = item
            py = P["yb"] - lev * (P["yb"] - P["yt"])
            fs = P["sfs"] if "*" in txt else P["nfs"]
            py += 0.28 * fs if "*" in txt else -0.04 * fs
            annos.append(dict(text=txt, x=X(pos(c, g)), y=Y(py), xref="paper", yref="paper", showarrow=False,
                              xanchor="center", yanchor="middle",
                              font=dict(family=FONT, size=fs, color="#1a1a1a")))

    # y title and panel letter
    annos.append(dict(text=P["title"], x=X(P["tpos"][0]), y=Y(P["tpos"][1]), xref="paper", yref="paper",
                      showarrow=False, textangle=-90, xanchor="center", yanchor="middle", align="center",
                      font=dict(family=FONT, size=14.5, color="black", weight="bold")))
    if P["letter"]:
        annos.append(dict(text=P["letter"], x=X(P["lpos"][0]), y=Y(P["lpos"][1]), xref="paper", yref="paper",
                          showarrow=False, xanchor="center", yanchor="middle",
                          font=dict(family=FONT, size=27, color="black", weight="bold")))

# legend (custom, boxed across the top)
LID = len(PANELS) + 1
fig.add_trace(go.Scatter(
    x=LEGEND_SYMBOL_X, y=[LEGEND_Y] * 4, mode="markers", cliponaxis=False,
    marker=dict(symbol=SYMBOLS, color=GROUP_COLORS, size=24, line=dict(width=0)),
    xaxis=f"x{LID}", yaxis=f"y{LID}", showlegend=False, hoverinfo="skip"))
fig.layout[f"xaxis{LID}"] = dict(domain=[0, 1], range=[0, W], visible=False, fixedrange=True, anchor=f"y{LID}")
fig.layout[f"yaxis{LID}"] = dict(domain=[0, 1], range=[H, 0], visible=False, fixedrange=True, anchor=f"x{LID}")
for name, tx in zip(GROUP_NAMES, LEGEND_TEXT_X):
    annos.append(dict(text=name, x=X(tx), y=Y(LEGEND_Y + 1), xref="paper", yref="paper", showarrow=False,
                      xanchor="left", yanchor="middle", font=dict(family=FONT, size=32, color="#222222")))
shapes.append(dict(type="rect", xref="paper", yref="paper", x0=X(46), x1=X(1271), y0=Y(52), y1=Y(3),
                   line=dict(color="black", width=4.5), fillcolor="rgba(0,0,0,0)"))

fig.update_layout(width=W, height=H, margin=dict(l=0, r=0, t=0, b=0, autoexpand=False), paper_bgcolor="white",
                  plot_bgcolor="rgba(0,0,0,0)", barmode="overlay", showlegend=False,
                  shapes=shapes, annotations=annos, font=dict(family=FONT, color="black"))

fig.write_html("out.html", config={"displayModeBar": False},
               post_script="document.body.style.margin='0';document.body.style.overflow='hidden';")
